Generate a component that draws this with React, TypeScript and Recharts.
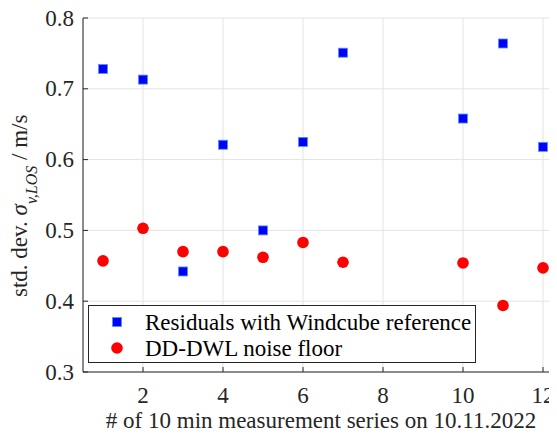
import React from 'react';
import { CartesianGrid, Scatter, ScatterChart, XAxis, YAxis } from 'recharts';

const seriesNo = [1, 2, 3, 4, 5, 6, 7, 10, 11, 12];
const residuals = [0.728, 0.713, 0.442, 0.621, 0.5, 0.625, 0.751, 0.658, 0.764, 0.618];
const noiseFloor = [0.457, 0.503, 0.47, 0.47, 0.462, 0.483, 0.455, 0.454, 0.394, 0.447];
const xTicks = [2, 4, 6, 8, 10, 12];
const yTicks = [0.3, 0.4, 0.5, 0.6, 0.7, 0.8];

const residualData = seriesNo.map((x, i) => ({ x, y: residuals[i] }));
const noiseData = seriesNo.map((x, i) => ({ x, y: noiseFloor[i] }));

const INK = '#262626';
const txt = { fontFamily: 'Liberation Serif, serif', fontSize: 23 };

const Square = ({ cx, cy }: any) => (
  <rect x={cx - 4.5} y={cy - 4.5} width={9} height={9} fill="#0000ff" stroke="#4d94ff" strokeWidth={0.8} />
);
const Dot = ({ cx, cy }: any) => <circle cx={cx} cy={cy} r={5.8} fill="#ff0000" />;

const YTick = ({ y, payload }: any) => (
  <g>
    <line x1={83} x2={88} y1={y} y2={y} stroke={INK} />
    <text x={74} y={y + 7.5} textAnchor="end" style={txt} fill={INK}>
      {payload.value.toFixed(1)}
    </text>
  </g>
);

const XTick = ({ x, payload }: any) => (
  <g>
    <line x1={x} x2={x} y1={372} y2={367} stroke={INK} />
    <text x={x} y={403} textAnchor="middle" style={txt} fill={INK}>
      {payload.value}
    </text>
  </g>
);

export default function App() {
  return (
    <div style={{ position: 'relative', width: 557, height: 434, margin: '-8px 0 0 -8px' }}>
      <ScatterChart width={557} height={434} margin={{ top: 18, right: 0, bottom: 0, left: 0 }}>
        <CartesianGrid stroke="#e3e3e3" />
        <XAxis
          type="number"
          dataKey="x"
          domain={[0.5, 12.35]}
          ticks={xTicks}
          allowDataOverflow
          height={62}
          tickLine={false}
          axisLine={{ stroke: INK }}
          tick={<XTick />}
          label={{
            content: () => (
              <text x={321} y={428} textAnchor="middle" style={txt} fill={INK}>
                # of 10 min measurement series on 10.11.2022
              </text>
            ),
          }}
        />
        <YAxis
          type="number"
          dataKey="y"
          domain={[0.3, 0.8]}
          ticks={yTicks}
          allowDataOverflow
          width={83}
          tickLine={false}
          axisLine={{ stroke: INK }}
          tick={<YTick />}
          label={{
            content: () => (
              <text transform="rotate(-90, 27, 297)" x={27} y={297} style={txt} fill={INK}>
                <tspan>std. dev. </tspan>
                <tspan fontStyle="italic">σ</tspan>
                <tspan fontStyle="italic" fontSize={16} dy={10}>
                  v,LOS
                </tspan>
                <tspan dy={-10}>{'   / m/s'}</tspan>
              </text>
            ),
          }}
        />
        <Scatter data={residualData} shape={<Square />} isAnimationActive={false} />
        <Scatter data={noiseData} shape={<Dot />} isAnimationActive={false} />
      </ScatterChart>
      <svg
        width={390}
        height={60}
        style={{ position: 'absolute', left: 88, top: 305, pointerEvents: 'none' }}
      >
        <rect x={0.5} y={0.5} width={387} height={57} fill="#fff" stroke={INK} />
        <rect x={24.5} y={12.5} width={9} height={9} fill="#0000ff" stroke="#4d94ff" strokeWidth={0.8} />
        <text x={57} y={25} style={txt} fill="#000">
          Residuals with Windcube reference
        </text>
        <circle cx={29} cy={43} r={5.8} fill="#ff0000" />
        <text x={57} y={51} style={txt} fill="#000">
          DD-DWL noise floor
        </text>
      </svg>
    </div>
  );
}
